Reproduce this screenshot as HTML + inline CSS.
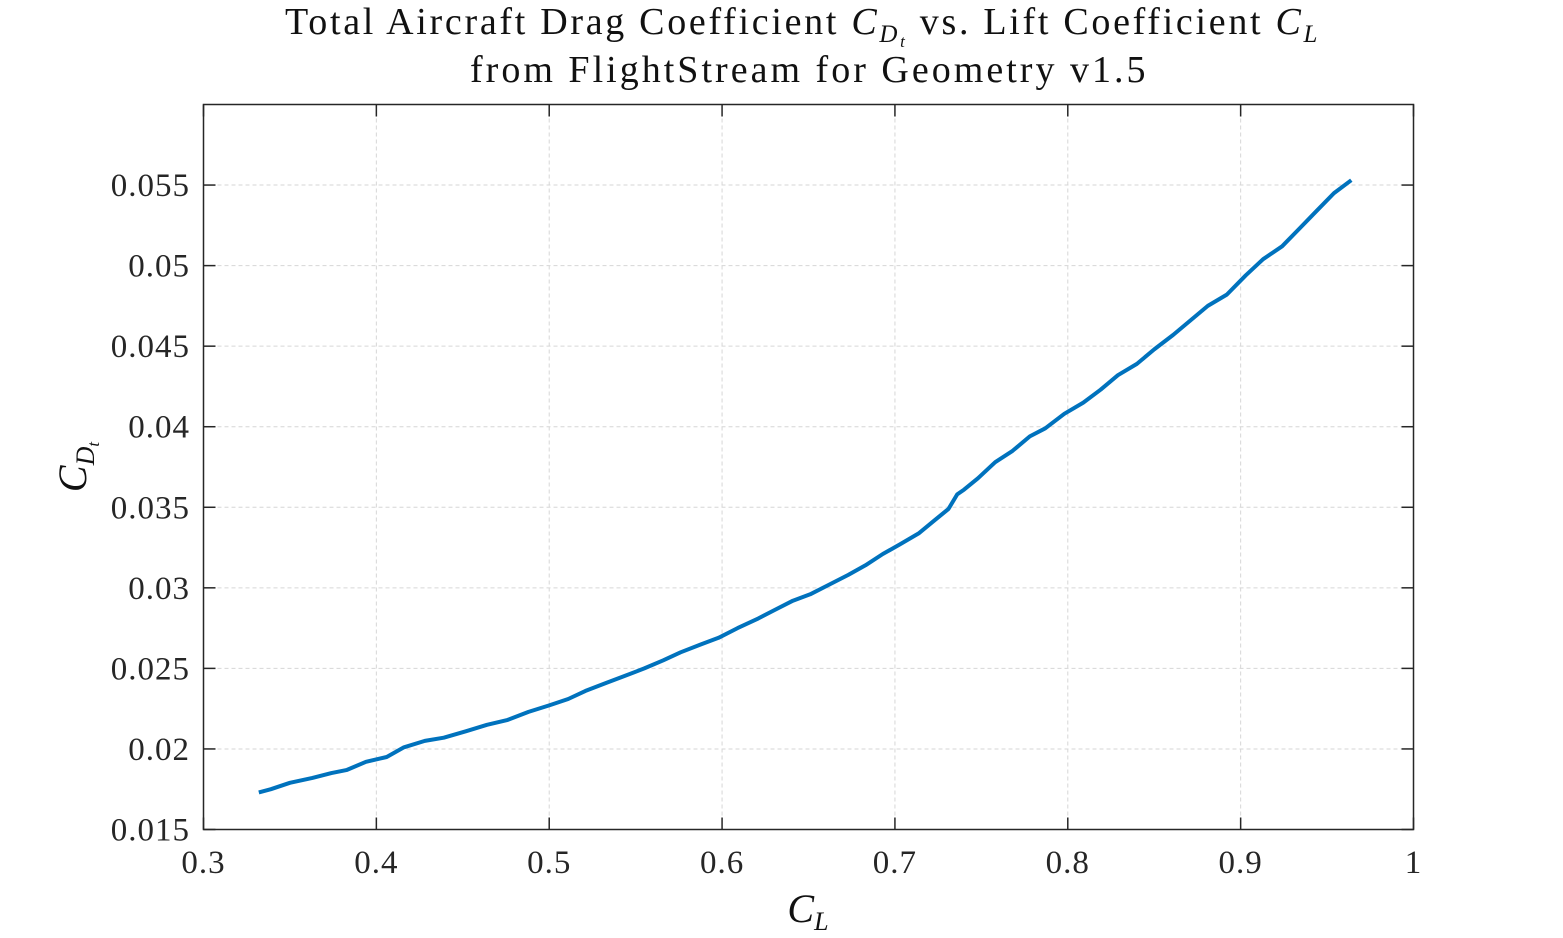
<!DOCTYPE html>
<html><head><meta charset="utf-8"><style>
html,body{margin:0;padding:0;background:#fff;}
svg{display:block;font-family:"Liberation Serif",serif;}
</style></head><body>
<svg id="chart" width="1563" height="938" viewBox="0 0 1563 938">
<rect x="0" y="0" width="1563" height="938" fill="#fff"/>
<g id="grid"></g>
<g id="ticks"></g>
<rect x="203.5" y="104.5" width="1210" height="725" fill="none" stroke="#262626" stroke-width="1.5"/>
<g id="series"></g>
<text x="285" y="34" font-size="38" letter-spacing="2.7" fill="#111">Total Aircraft Drag Coefficient <tspan font-style="italic">C</tspan><tspan font-style="italic" font-size="25" dy="8">D</tspan><tspan font-style="italic" font-size="17" dy="5">t</tspan><tspan dy="-13"> vs. Lift Coefficient </tspan><tspan font-style="italic">C</tspan><tspan font-style="italic" font-size="25" dy="8">L</tspan></text>
<text x="470" y="82" font-size="38" letter-spacing="1.5" textLength="677" lengthAdjust="spacing" fill="#111">from FlightStream for Geometry v1.5</text>
<text x="808" y="922" text-anchor="middle" font-size="40" font-style="italic" fill="#111">C<tspan font-size="26" dy="8">L</tspan></text>
<g transform="translate(86,467) rotate(-90)"><text x="0" y="0" text-anchor="middle" font-size="40" font-style="italic" fill="#111">C<tspan font-size="26" dy="8">D</tspan><tspan font-size="17" dy="5">t</tspan></text></g>
</svg>
<script>
const cl = [0.332,0.339,0.350,0.363,0.374,0.383,0.394,0.406,0.416,0.428,0.439,0.452,0.464,0.476,0.488,0.500,0.511,0.521,0.533,0.543,0.555,0.566,0.576,0.588,0.598,0.609,0.621,0.630,0.641,0.651,0.662,0.673,0.683,0.693,0.703,0.714,0.723,0.731,0.736,0.740,0.748,0.758,0.768,0.778,0.787,0.798,0.809,0.819,0.829,0.840,0.850,0.861,0.871,0.881,0.892,0.903,0.913,0.924,0.934,0.944,0.954,0.964];
const cd = [0.0173,0.0175,0.0179,0.0182,0.0185,0.0187,0.0192,0.0195,0.0201,0.0205,0.0207,0.0211,0.0215,0.0218,0.0223,0.0227,0.0231,0.0236,0.0241,0.0245,0.0250,0.0255,0.0260,0.0265,0.0269,0.0275,0.0281,0.0286,0.0292,0.0296,0.0302,0.0308,0.0314,0.0321,0.0327,0.0334,0.0342,0.0349,0.0358,0.0361,0.0368,0.0378,0.0385,0.0394,0.0399,0.0408,0.0415,0.0423,0.0432,0.0439,0.0448,0.0457,0.0466,0.0475,0.0482,0.0494,0.0504,0.0512,0.0523,0.0534,0.0545,0.0553];
const xTicks = [0.3,0.4,0.5,0.6,0.7,0.8,0.9,1];
const xTickLabels = ["0.3","0.4","0.5","0.6","0.7","0.8","0.9","1"];
const yTicks = [0.015,0.02,0.025,0.03,0.035,0.04,0.045,0.05,0.055];
const yTickLabels = ["0.015","0.02","0.025","0.03","0.035","0.04","0.045","0.05","0.055"];
const X0=203.5,X1=1413.5,Y0=829.5,Y1=104.5;
function sx(v){return X0+(v-0.3)/0.7*(X1-X0);}
function sy(v){return Y0-(v-0.015)/0.045*(Y0-Y1);}
const NS="http://www.w3.org/2000/svg";
const grid=document.getElementById('grid'),ticks=document.getElementById('ticks'),series=document.getElementById('series');
function mk(t,a,p){const e=document.createElementNS(NS,t);for(const k in a)e.setAttribute(k,a[k]);p.appendChild(e);return e;}
xTicks.forEach((v,i)=>{const x=sx(v);
 if(i>0&&i<xTicks.length-1){const g=mk('line',{x1:x,x2:x,y1:Y1,y2:Y0,stroke:'#d6d6d6','stroke-width':1,'stroke-dasharray':'4,3'},grid);
 
 }
 mk('line',{x1:x,x2:x,y1:Y0,y2:Y0-12,stroke:'#262626','stroke-width':1.5},ticks);
 mk('line',{x1:x,x2:x,y1:Y1,y2:Y1+12,stroke:'#262626','stroke-width':1.5},ticks);
 const t=mk('text',{x:x,y:873,'text-anchor':'middle','font-size':33,'letter-spacing':1,fill:'#262626'},ticks);t.textContent=xTickLabels[i];
 
 
});
yTicks.forEach((v,i)=>{const y=sy(v);
 if(i>0){const g=mk('line',{x1:X0,x2:X1,y1:y,y2:y,stroke:'#d6d6d6','stroke-width':1,'stroke-dasharray':'4,3'},grid);
 
 }
 mk('line',{x1:X0,x2:X0+12,y1:y,y2:y,stroke:'#262626','stroke-width':1.5},ticks);
 mk('line',{x1:X1,x2:X1-12,y1:y,y2:y,stroke:'#262626','stroke-width':1.5},ticks);
 const t=mk('text',{x:190,y:y+11,'text-anchor':'end','font-size':33,'letter-spacing':1,fill:'#262626'},ticks);t.textContent=yTickLabels[i];
 
 
});
const d=cl.map((v,i)=>(i?'L':'M')+sx(v).toFixed(1)+','+sy(cd[i]).toFixed(1)).join(' ');
const line=mk('path',{d:d,fill:'none',stroke:'#0072BD','stroke-width':4,'stroke-linejoin':'round'},series);


</script>
</body></html>
